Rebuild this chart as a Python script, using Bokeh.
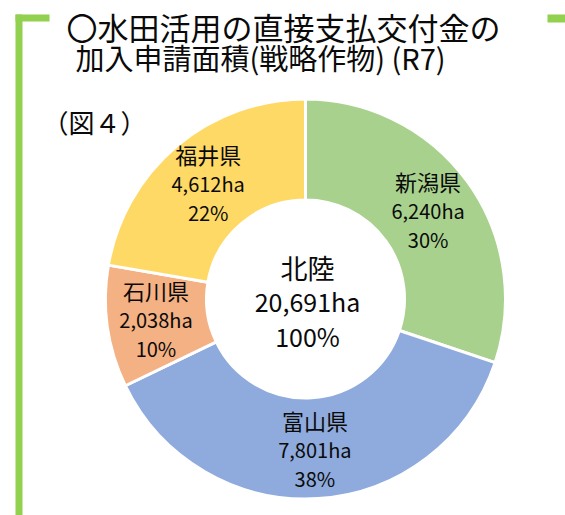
import math
from bokeh.plotting import figure
from bokeh.models import Range1d, BoxAnnotation, ColumnDataSource
from bokeh.core.properties import value
from bokeh.embed import file_html
from bokeh.resources import INLINE

# ---- data ----
prefectures = ["新潟県", "富山県", "石川県", "福井県"]
areas_ha = [6240, 7801, 2038, 4612]
colors = ["#A9D18E", "#8FAADC", "#F4B183", "#FFD966"]
region_name = "北陸"
title_lines = ["〇水田活用の直接支払交付金の", "加入申請面積(戦略作物) (R7)"]
fig_label = "（図４）"

FONT = "Noto Sans CJK JP"
W, H = 565, 515
p = figure(width=W, height=H, output_backend="svg", toolbar_location=None,
           x_range=Range1d(0, W), y_range=Range1d(0, H), min_border=0)
p.axis.visible = False
p.grid.visible = False
p.outline_line_color = None
p.background_fill_color = "white"
p.border_fill_color = "white"

def fy(page_y):
    return H - page_y

def fx(page_x):
    return page_x

# green bracket decoration
green = "#92D050"
p.add_layout(BoxAnnotation(left=fx(15), right=fx(22), bottom=0, top=fy(14), fill_color=green, fill_alpha=1, line_color=None))
p.add_layout(BoxAnnotation(left=fx(15), right=fx(49), bottom=fy(21), top=fy(14), fill_color=green, fill_alpha=1, line_color=None))
p.add_layout(BoxAnnotation(left=fx(547), right=W, bottom=fy(22), top=fy(14), fill_color=green, fill_alpha=1, line_color=None))

# donut
cx, cy = fx(305), fy(298.5)
r_out, r_in = 200, 99
total = sum(areas_ha)
fracs = [a / total for a in areas_ha]
starts, ends, mids = [], [], []
cum = 0.0
for f in fracs:
    s = math.pi / 2 - 2 * math.pi * cum
    e = math.pi / 2 - 2 * math.pi * (cum + f)
    starts.append(s); ends.append(e); mids.append((s + e) / 2)
    cum += f

src = ColumnDataSource(dict(start=starts, end=ends, color=colors))
p.annular_wedge(x=cx, y=cy, inner_radius=r_in, outer_radius=r_out,
                start_angle="start", end_angle="end", direction="clock",
                fill_color="color", line_color="white", line_width=3, source=src)

# segment labels
r_lab = 151
lx = [cx + r_lab * math.cos(m) for m in mids]
ly = [cy + r_lab * math.sin(m) for m in mids]
pct = [f"{round(f * 100)}%" for f in fracs]
ha = [f"{a:,}ha" for a in areas_ha]
TC = "#0a0a0a"
p.text(x=lx, y=[y + 30 for y in ly], text=prefectures, text_font=value(FONT), text_font_size="22px",
       text_align="center", text_baseline="middle", text_color=TC)
p.text(x=lx, y=ly, text=ha, text_font=value(FONT), text_font_size="20px",
       text_align="center", text_baseline="middle", text_color=TC)
p.text(x=lx, y=[y - 29 for y in ly], text=pct, text_font=value(FONT), text_font_size="20px",
       text_align="center", text_baseline="middle", text_color=TC)

# center label
p.text(x=[cx + 2], y=[cy + 32], text=[region_name], text_font=value(FONT), text_font_size="27px",
       text_align="center", text_baseline="middle", text_color=TC)
p.text(x=[cx + 2], y=[cy - 2], text=[f"{total:,}ha"], text_font=value(FONT), text_font_size="25px",
       text_align="center", text_baseline="middle", text_color=TC)
p.text(x=[cx + 2], y=[cy - 37], text=["100%"], text_font=value(FONT), text_font_size="25px",
       text_align="center", text_baseline="middle", text_color=TC)

# titles
p.text(x=[fx(283)], y=[fy(26)], text=[title_lines[0]], text_font=value(FONT), text_font_size="31px",
       text_align="center", text_baseline="middle", text_color=TC)
p.text(x=[fx(260)], y=[fy(56)], text=[title_lines[1]], text_font=value(FONT), text_font_size="29px",
       text_align="center", text_baseline="middle", text_color=TC)
p.text(x=[fx(94)], y=[fy(121)], text=[fig_label], text_font=value(FONT), text_font_size="26px",
       text_align="center", text_baseline="middle", text_color=TC)

open("out.html", "w").write(file_html(p, INLINE))
